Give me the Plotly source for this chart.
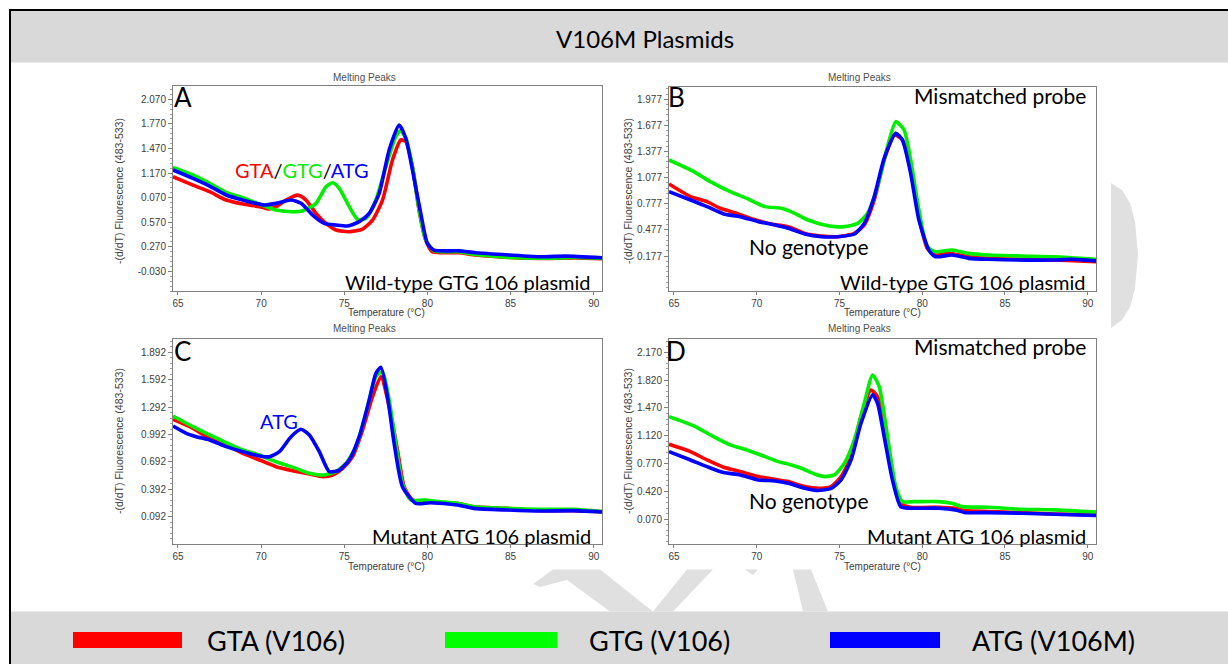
import plotly.graph_objects as go

W, H = 1228, 664

# ---------------- data ----------------
series_names = ["GTA (V106)", "GTG (V106)", "ATG (V106M)"]
series_colors = ["#ff0000", "#00ee00", "#0000ff"]

# Panel A: Wild-type GTG 106 plasmid
a_gta_x = [64.7, 65.9, 66.9, 67.9, 68.9, 69.9, 70.5, 70.9, 71.5, 72.2, 72.7, 73.3, 73.9, 74.5, 75.3, 76.1, 76.7, 77.3, 77.9, 78.4, 78.7, 79.1, 79.5, 79.9, 80.3, 80.9, 81.9, 82.9, 84.9, 86.9, 88.9, 90.5]
a_gta_y = [1.125, 1.023, 0.942, 0.840, 0.791, 0.759, 0.73, 0.759, 0.84, 0.90, 0.84, 0.677, 0.555, 0.474, 0.454, 0.486, 0.596, 0.84, 1.329, 1.573, 1.553, 1.247, 0.718, 0.352, 0.209, 0.197, 0.197, 0.17, 0.14, 0.128, 0.132, 0.124]
a_gtg_x = [64.7, 65.9, 66.9, 67.9, 68.9, 69.9, 70.9, 71.9, 72.5, 73.3, 73.9, 74.3, 74.7, 75.3, 75.8, 76.3, 76.9, 77.5, 78.1, 78.4, 78.7, 79.1, 79.5, 79.9, 80.4, 81.9, 82.9, 84.9, 86.9, 88.9, 90.5]
a_gtg_y = [1.239, 1.146, 1.044, 0.934, 0.869, 0.791, 0.718, 0.698, 0.71, 0.80, 1.003, 1.052, 0.983, 0.759, 0.604, 0.616, 0.84, 1.247, 1.614, 1.687, 1.594, 1.247, 0.718, 0.352, 0.22, 0.21, 0.175, 0.14, 0.13, 0.138, 0.128]
a_atg_x = [64.7, 65.9, 66.9, 67.9, 68.9, 70.2, 70.9, 71.8, 72.4, 73.1, 73.8, 74.5, 75.2, 75.9, 76.5, 77.1, 77.7, 78.3, 78.7, 79.1, 79.6, 80.0, 80.4, 81.9, 82.9, 84.9, 86.9, 88.3, 90.5]
a_atg_y = [1.207, 1.105, 1.011, 0.902, 0.84, 0.779, 0.80, 0.84, 0.80, 0.657, 0.555, 0.535, 0.523, 0.576, 0.677, 0.922, 1.451, 1.756, 1.594, 1.207, 0.677, 0.311, 0.229, 0.22, 0.197, 0.17, 0.148, 0.156, 0.136]

# Panel B: Wild-type GTG 106 plasmid, mismatched probe
b_gta_x = [64.7, 66.0, 67.0, 67.8, 68.8, 69.8, 70.9, 71.9, 72.9, 73.9, 74.9, 75.9, 76.5, 77.1, 77.7, 78.3, 78.8, 79.3, 79.8, 80.3, 80.8, 81.6, 82.8, 84.0, 88.0, 90.6]
b_gta_y = [1.004, 0.859, 0.801, 0.725, 0.667, 0.598, 0.545, 0.514, 0.437, 0.407, 0.399, 0.437, 0.533, 0.82, 1.28, 1.567, 1.51, 1.165, 0.629, 0.265, 0.188, 0.207, 0.169, 0.15, 0.131, 0.112]
b_gtg_x = [64.7, 66.2, 67.2, 68.4, 69.4, 70.5, 71.5, 72.3, 73.1, 74.3, 75.3, 76.1, 76.7, 77.3, 77.9, 78.4, 78.9, 79.3, 79.8, 80.3, 80.8, 81.8, 82.8, 84.0, 86.0, 88.0, 90.6]
b_gtg_y = [1.28, 1.146, 1.031, 0.916, 0.839, 0.744, 0.725, 0.667, 0.59, 0.525, 0.514, 0.552, 0.667, 0.974, 1.433, 1.72, 1.625, 1.28, 0.706, 0.284, 0.227, 0.246, 0.207, 0.188, 0.177, 0.169, 0.139]
b_atg_x = [64.7, 66.0, 67.0, 68.0, 69.0, 70.1, 71.1, 71.9, 72.9, 73.9, 74.9, 75.9, 76.5, 77.1, 77.7, 78.4, 78.8, 79.3, 79.8, 80.4, 80.8, 81.8, 82.8, 84.0, 88.0, 89.0, 90.6]
b_atg_y = [0.916, 0.82, 0.744, 0.66, 0.629, 0.571, 0.533, 0.495, 0.43, 0.399, 0.399, 0.43, 0.552, 0.858, 1.299, 1.586, 1.51, 1.127, 0.59, 0.246, 0.169, 0.188, 0.15, 0.139, 0.131, 0.139, 0.12]

# Panel C: Mutant ATG 106 plasmid
c_gta_x = [64.7, 65.9, 66.9, 67.9, 68.9, 69.9, 70.9, 71.9, 72.9, 73.7, 74.3, 74.9, 75.5, 76.1, 76.7, 77.2, 77.7, 78.2, 78.6, 79.1, 79.8, 80.8, 81.8, 82.8, 84.8, 86.8, 88.8, 90.5]
c_gta_y = [1.158, 1.06, 0.95, 0.877, 0.786, 0.713, 0.64, 0.596, 0.559, 0.53, 0.548, 0.621, 0.749, 1.041, 1.406, 1.625, 1.297, 0.822, 0.421, 0.275, 0.256, 0.245, 0.238, 0.201, 0.183, 0.158, 0.158, 0.147]
c_gtg_x = [64.7, 65.9, 66.9, 67.9, 68.9, 69.9, 70.9, 72.1, 72.9, 73.7, 74.5, 75.1, 75.7, 76.3, 76.9, 77.3, 77.7, 78.1, 78.5, 79.0, 79.8, 80.8, 81.8, 82.8, 84.8, 86.8, 88.8, 90.5]
c_gtg_y = [1.195, 1.078, 0.987, 0.903, 0.822, 0.767, 0.694, 0.621, 0.567, 0.548, 0.585, 0.676, 0.859, 1.224, 1.625, 1.68, 1.37, 0.895, 0.457, 0.275, 0.275, 0.256, 0.238, 0.201, 0.183, 0.172, 0.172, 0.147]
c_atg_x = [64.7, 65.5, 66.1, 66.9, 67.9, 68.9, 69.9, 70.5, 71.1, 71.8, 72.4, 72.9, 73.5, 74.1, 74.7, 75.3, 75.9, 76.5, 76.9, 77.2, 77.6, 78.0, 78.5, 79.3, 80.2, 81.8, 82.8, 84.8, 86.8, 88.8, 90.5]
c_atg_y = [1.085, 1.005, 0.968, 0.932, 0.859, 0.804, 0.757, 0.749, 0.804, 0.968, 1.049, 0.987, 0.804, 0.585, 0.603, 0.713, 0.968, 1.37, 1.662, 1.728, 1.406, 0.895, 0.421, 0.238, 0.245, 0.22, 0.183, 0.165, 0.154, 0.158, 0.143]

# Panel D: Mutant ATG 106 plasmid, mismatched probe
d_gta_x = [64.7, 66.0, 67.0, 68.0, 69.0, 70.1, 71.1, 71.9, 72.9, 73.7, 74.5, 75.1, 75.7, 76.3, 76.9, 77.3, 77.7, 78.2, 78.7, 79.3, 81.0, 82.0, 82.6, 84.0, 86.0, 88.0, 90.6]
d_gta_y = [1.013, 0.921, 0.816, 0.724, 0.67, 0.607, 0.573, 0.544, 0.481, 0.46, 0.481, 0.607, 0.858, 1.361, 1.696, 1.613, 1.194, 0.607, 0.271, 0.221, 0.221, 0.209, 0.179, 0.167, 0.154, 0.137, 0.125]
d_gtg_x = [64.7, 66.2, 67.2, 68.4, 69.4, 70.5, 71.3, 71.9, 72.7, 73.5, 74.1, 74.7, 75.3, 75.9, 76.5, 77.0, 77.4, 77.9, 78.4, 78.8, 79.5, 81.0, 81.8, 82.4, 84.0, 86.0, 88.0, 90.6]
d_gtg_y = [1.361, 1.244, 1.131, 1.005, 0.942, 0.858, 0.795, 0.766, 0.712, 0.64, 0.607, 0.628, 0.774, 1.068, 1.529, 1.885, 1.738, 1.11, 0.481, 0.292, 0.292, 0.292, 0.271, 0.229, 0.221, 0.196, 0.188, 0.158]
d_atg_x = [64.7, 66.0, 67.0, 68.0, 69.0, 70.1, 71.1, 71.9, 72.9, 73.7, 74.5, 75.1, 75.7, 76.3, 77.0, 77.3, 77.7, 78.2, 78.7, 79.3, 81.0, 82.0, 82.6, 84.0, 86.0, 88.0, 90.6]
d_atg_y = [0.921, 0.816, 0.732, 0.657, 0.628, 0.565, 0.552, 0.523, 0.46, 0.431, 0.46, 0.565, 0.816, 1.277, 1.634, 1.529, 1.11, 0.565, 0.229, 0.209, 0.209, 0.187, 0.154, 0.154, 0.146, 0.133, 0.117]

x_ticks = [65, 70, 75, 80, 85, 90]
a_yticks = [-0.030, 0.270, 0.570, 0.870, 1.170, 1.470, 1.770, 2.070]
a_yticktext = ["-0.030", "0.270", "0.570", "0.070", "1.170", "1.470", "1.770", "2.070"]
b_yticks = [0.177, 0.477, 0.777, 1.077, 1.377, 1.677, 1.977]
c_yticks = [0.092, 0.392, 0.692, 0.992, 1.292, 1.592, 1.892]
d_yticks = [0.070, 0.420, 0.770, 1.120, 1.470, 1.820, 2.170]

# ---------------- layout helpers ----------------
def px(x):
    return x / W

def py(y):
    return 1 - y / H

TICKFONT = dict(family="Liberation Sans, Arial", size=10, color="#404040")
BIG = "Lato, Open Sans, sans-serif"

panels = [
    ("A", [(a_gta_x, a_gta_y), (a_gtg_x, a_gtg_y), (a_atg_x, a_atg_y)], (173, 602), (86, 291), [-0.27, 2.232], a_yticks, a_yticktext),
    ("B", [(b_gta_x, b_gta_y), (b_gtg_x, b_gtg_y), (b_atg_x, b_atg_y)], (669, 1096), (87, 291), [-0.225, 2.118], b_yticks, [f"{v:.3f}" for v in b_yticks]),
    ("C", [(c_gta_x, c_gta_y), (c_gtg_x, c_gtg_y), (c_atg_x, c_atg_y)], (173, 602), (339, 544), [-0.207, 2.038], c_yticks, [f"{v:.3f}" for v in c_yticks]),
    ("D", [(d_gta_x, d_gta_y), (d_gtg_x, d_gtg_y), (d_atg_x, d_atg_y)], (669, 1096), (339, 544), [-0.241, 2.337], d_yticks, [f"{v:.3f}" for v in d_yticks]),
]

fig = go.Figure()
layout_axes = {}
for i, (name, data, xd, yd, yr, yt, ytt) in enumerate(panels):
    suffix = "" if i == 0 else str(i + 1)
    for (xs, ys), nm, col in zip(data, series_names, series_colors):
        fig.add_trace(go.Scatter(
            x=xs, y=ys, mode="lines", name=nm, showlegend=False,
            line=dict(color=col, width=3.6, shape="spline", smoothing=0.6),
            xaxis="x" + suffix, yaxis="y" + suffix, hoverinfo="skip"))
    step = yt[1] - yt[0]
    layout_axes["xaxis" + suffix] = dict(
        domain=[px(xd[0]), px(xd[1])], range=[64.7, 90.5], anchor="y" + suffix,
        tickmode="array", tickvals=x_ticks, ticks="outside", ticklen=3, tickcolor="#808080",
        showline=True, linecolor="#808080", linewidth=1, mirror=True, showgrid=False,
        zeroline=False, tickfont=TICKFONT)
    layout_axes["yaxis" + suffix] = dict(
        domain=[py(yd[1]), py(yd[0])], range=yr, anchor="x" + suffix,
        tickmode="array", tickvals=yt, ticktext=ytt, ticks="outside", ticklen=4, tickcolor="#808080",
        minor=dict(tickmode="linear", tick0=yt[0], dtick=step / 5, ticks="outside", ticklen=2, tickcolor="#a0a0a0"),
        showline=True, linecolor="#808080", linewidth=1, mirror=True, showgrid=False,
        zeroline=False, tickfont=TICKFONT)

annotations = []
def ann(text, x, y, size, color="black", family=BIG, **kw):
    annotations.append(dict(text=text, x=px(x), y=py(y), xref="paper", yref="paper",
                            showarrow=False, font=dict(family=family, size=size, color=color),
                            xanchor=kw.pop("xanchor", "center"), yanchor=kw.pop("yanchor", "middle"), **kw))

# title
ann("V106M Plasmids", 645, 38, 24)

# panel decorations
for (cx, cy_title, cy_xt, yl_x, yl_y) in [(387, 77, 312, 119, 191), (882, 77, 312, 628, 191),
                                           (387, 329, 566, 119, 441), (882, 329, 566, 628, 441)]:
    ann("Melting Peaks", cx - 23, cy_title, 10, color="#505050", family="Liberation Sans, Arial")
    ann("Temperature (°C)", cx, cy_xt, 10, color="#404040", family="Liberation Sans, Arial")
    ann("-(d/dT) Fluorescence (483-533)", yl_x, yl_y, 10.5, color="#404040",
        family="Liberation Sans, Arial", textangle=-90)

ann("A", 183, 97, 26)
ann("B", 676, 97, 26)
ann("C", 182, 351, 26)
ann("D", 676, 351, 26)

ann('<span style="color:#ff0000">GTA</span>/<span style="color:#00ee00">GTG</span>/<span style="color:#0000ff">ATG</span>',
    302, 170, 20)
ann("Wild-type GTG 106 plasmid", 593, 282, 20, xanchor="right")
ann("Mismatched probe", 1088, 95, 21, xanchor="right")
ann("No genotype", 808, 247, 21)
ann("Wild-type GTG 106 plasmid", 1088, 282, 20, xanchor="right")
ann("ATG", 279, 421, 20, color="#0000ff")
ann("Mutant ATG 106 plasmid", 593, 536, 20, xanchor="right")
ann("Mismatched probe", 1088, 347, 21, xanchor="right")
ann("No genotype", 808, 501, 21)
ann("Mutant ATG 106 plasmid", 1088, 536, 20, xanchor="right")

# legend texts
legend_text_x = [205, 587, 970]
for t, lx in zip(series_names, legend_text_x):
    ann(t, lx, 640, 27, xanchor="left")

shapes = []
def rect(x0, y0, x1, y1, fill, layer="below"):
    shapes.append(dict(type="rect", xref="paper", yref="paper", x0=px(x0), x1=px(x1),
                       y0=py(y1), y1=py(y0), fillcolor=fill, layer=layer,
                       line=dict(width=0, color=fill)))

def poly(points, fill, layer="below"):
    path = "M " + " L ".join(f"{px(x):.5f},{py(y):.5f}" for x, y in points) + " Z"
    shapes.append(dict(type="path", xref="paper", yref="paper", path=path,
                       fillcolor=fill, line=dict(width=0), layer=layer))

# bands
rect(10, 10, 1228, 62.5, "#d9d9d9")
rect(10, 611.5, 1228, 664, "#d9d9d9")
# border lines
shapes.append(dict(type="line", xref="paper", yref="paper", x0=px(10), x1=1, y0=py(10), y1=py(10),
                   line=dict(color="black", width=2)))
shapes.append(dict(type="line", xref="paper", yref="paper", x0=px(10), x1=px(10), y0=py(9), y1=0,
                   line=dict(color="black", width=2)))
# legend patches
for (x0, x1), col in zip([(73, 182), (445, 557), (830, 940)], ["#ff0000", "#00ff00", "#0000ff"]):
    rect(x0, 632, x1, 648, col, layer="above")

# watermark fragments
WM = "#e0e0e0"
poly([(1111, 183), (1122, 190), (1130, 203), (1135, 222), (1138, 255), (1135, 288),
      (1130, 307), (1122, 320), (1111, 328)], WM)
poly([(533, 584), (553, 569.5), (600, 569.5), (653, 611.5), (610, 611.5), (567, 580), (540, 587)], WM)
poly([(653, 611.5), (687, 569.5), (713, 569.5), (673, 611.5)], WM)
poly([(745, 569.5), (758, 569.5), (753, 575)], WM)
poly([(793, 569.5), (811, 569.5), (828, 611.5), (803, 611.5)], WM)

fig.update_layout(
    width=W, height=H, margin=dict(l=0, r=0, t=0, b=0),
    paper_bgcolor="white", plot_bgcolor="white",
    showlegend=False, annotations=annotations, shapes=shapes, **layout_axes)

fig.write_html("out.html")
